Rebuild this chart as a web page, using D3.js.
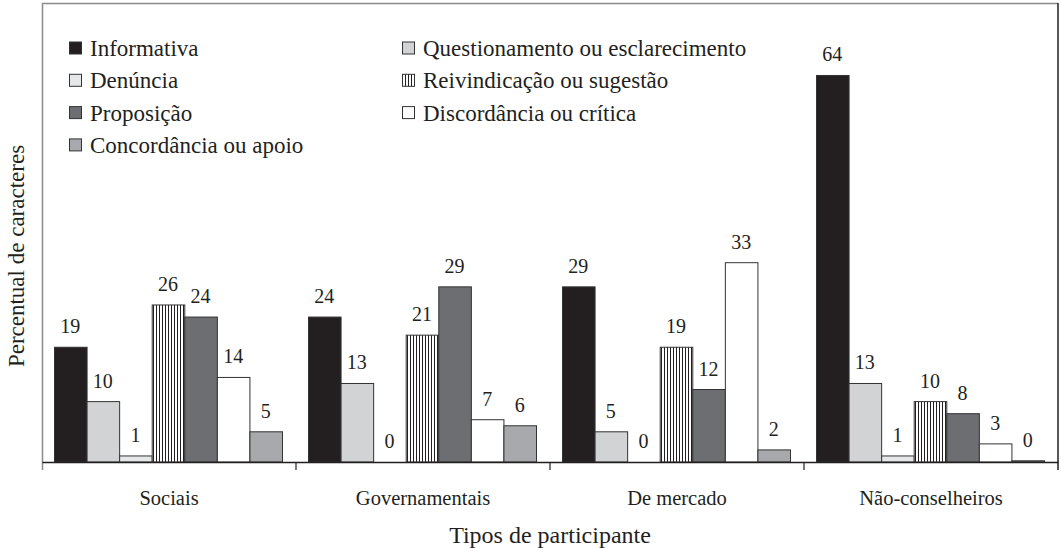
<!DOCTYPE html>
<html>
<head>
<meta charset="utf-8">
<script src="https://cdn.jsdelivr.net/npm/d3@7"></script>
<style>
  body { margin: 0; background: #fff; }
  svg { display: block; font-family: "Liberation Serif", serif; }
</style>
</head>
<body>
<div id="chart"></div>
<script>
var categories = ["Sociais", "Governamentais", "De mercado", "Não-conselheiros"];
var seriesNames = ["Informativa", "Questionamento ou esclarecimento", "Denúncia",
                   "Reivindicação ou sugestão", "Proposição", "Discordância ou crítica",
                   "Concordância ou apoio"];
var informativa    = [19, 24, 29, 64];
var questionamento = [10, 13, 5, 13];
var denuncia       = [1, 0, 0, 1];
var reivindicacao  = [26, 21, 19, 10];
var proposicao     = [24, 29, 12, 8];
var discordancia   = [14, 7, 33, 3];
var concordancia   = [5, 6, 2, 0.2];

var seriesValues = [informativa, questionamento, denuncia, reivindicacao,
                    proposicao, discordancia, concordancia];
var fills = ["#231f20", "#d1d3d4", "#e6e7e8", "url(#stripes)", "#6d6e71", "#ffffff", "#a7a9ac"];

var width = 1061, height = 548;
var margin = {top: 3, right: 3, bottom: 86, left: 42};

var svg = d3.select("#chart").append("svg")
    .attr("width", width).attr("height", height);

var defs = svg.append("defs");
var pat = defs.append("pattern")
    .attr("id", "stripes").attr("patternUnits", "userSpaceOnUse")
    .attr("width", 3).attr("height", 4);
pat.append("rect").attr("width", 3).attr("height", 4).attr("fill", "#fff");
pat.append("rect").attr("x", 0).attr("width", 1).attr("height", 4).attr("fill", "#231f20");

var x0 = d3.scaleBand()
    .domain(categories)
    .range([margin.left, width - margin.right]);

var x1 = d3.scaleBand()
    .domain(seriesNames)
    .range([12, x0.bandwidth() - 14]);

var y = d3.scaleLinear()
    .domain([0, 76])
    .range([height - margin.bottom, margin.top]);

var base = y(0);

// frame
svg.append("line").attr("x1", margin.left).attr("x2", width - margin.right)
    .attr("y1", margin.top + 0.5).attr("y2", margin.top + 0.5)
    .attr("stroke", "#8a8a8a").attr("stroke-width", 1.5);
svg.append("line").attr("x1", margin.left + 0.5).attr("x2", margin.left + 0.5)
    .attr("y1", margin.top).attr("y2", base + 8)
    .attr("stroke", "#8a8a8a").attr("stroke-width", 1.5);
svg.append("line").attr("x1", width - margin.right).attr("x2", width - margin.right)
    .attr("y1", margin.top).attr("y2", base + 8)
    .attr("stroke", "#231f20").attr("stroke-width", 1.5);

// bars
var groups = svg.append("g").selectAll("g")
    .data(categories)
    .enter().append("g")
    .attr("transform", function(d) { return "translate(" + x0(d) + ",0)"; });

var bars = groups.selectAll("g")
    .data(function(c, ci) {
        return seriesNames.map(function(s, si) {
            return {series: s, si: si, value: seriesValues[si][ci]};
        });
    })
    .enter().append("g");

bars.filter(function(d) { return d.value > 0; })
    .append("rect")
    .attr("x", function(d) { return x1(d.series) + 0.5; })
    .attr("y", function(d) { return y(d.value); })
    .attr("width", x1.bandwidth())
    .attr("height", function(d) { return base - y(d.value); })
    .attr("fill", function(d) { return fills[d.si]; })
    .attr("stroke", "#333")
    .attr("stroke-width", 1);

bars.append("text")
    .attr("x", function(d) { return x1(d.series) + x1.bandwidth() / 2; })
    .attr("y", function(d) { return y(d.value) - 14; })
    .attr("text-anchor", "middle")
    .attr("font-size", 20)
    .attr("fill", "#231f20")
    .text(function(d) { return d3.format(".0f")(d.value); });

// x axis
var xAxis = svg.append("g")
    .attr("transform", "translate(0," + base + ")")
    .call(d3.axisBottom(x0).tickSize(0).tickPadding(28));
xAxis.select(".domain").attr("stroke", "#231f20").attr("stroke-width", 1.5);
xAxis.selectAll("text").attr("font-size", 20.5).attr("fill", "#231f20")
    .attr("font-family", "Liberation Serif, serif");

svg.append("g").selectAll("line")
    .data(categories.slice(1))
    .enter().append("line")
    .attr("x1", function(d) { return x0(d); })
    .attr("x2", function(d) { return x0(d); })
    .attr("y1", base).attr("y2", base + 8)
    .attr("stroke", "#231f20").attr("stroke-width", 1.2);

// axis titles
svg.append("text")
    .attr("x", 550).attr("y", 543)
    .attr("text-anchor", "middle")
    .attr("font-size", 24).attr("fill", "#231f20")
    .text("Tipos de participante");

svg.append("text")
    .attr("transform", "translate(24,256) rotate(-90)")
    .attr("text-anchor", "middle")
    .attr("font-size", 23).attr("fill", "#231f20")
    .text("Percentual de caracteres");

// legend
var legend = svg.append("g").selectAll("g")
    .data(seriesNames)
    .enter().append("g")
    .attr("transform", function(d, i) {
        var col = i % 2, row = Math.floor(i / 2);
        return "translate(" + (col === 0 ? 69 : 402) + "," + (48 + row * 32.3) + ")";
    });

legend.append("rect")
    .attr("x", 0.5).attr("y", -6)
    .attr("width", 12).attr("height", 12)
    .attr("fill", function(d, i) { return fills[i]; })
    .attr("stroke", "#333").attr("stroke-width", 1);

legend.append("text")
    .attr("x", 21).attr("y", 0)
    .attr("dy", "0.35em")
    .attr("font-size", 23).attr("fill", "#231f20")
    .text(function(d) { return d; });
</script>
</body>
</html>
